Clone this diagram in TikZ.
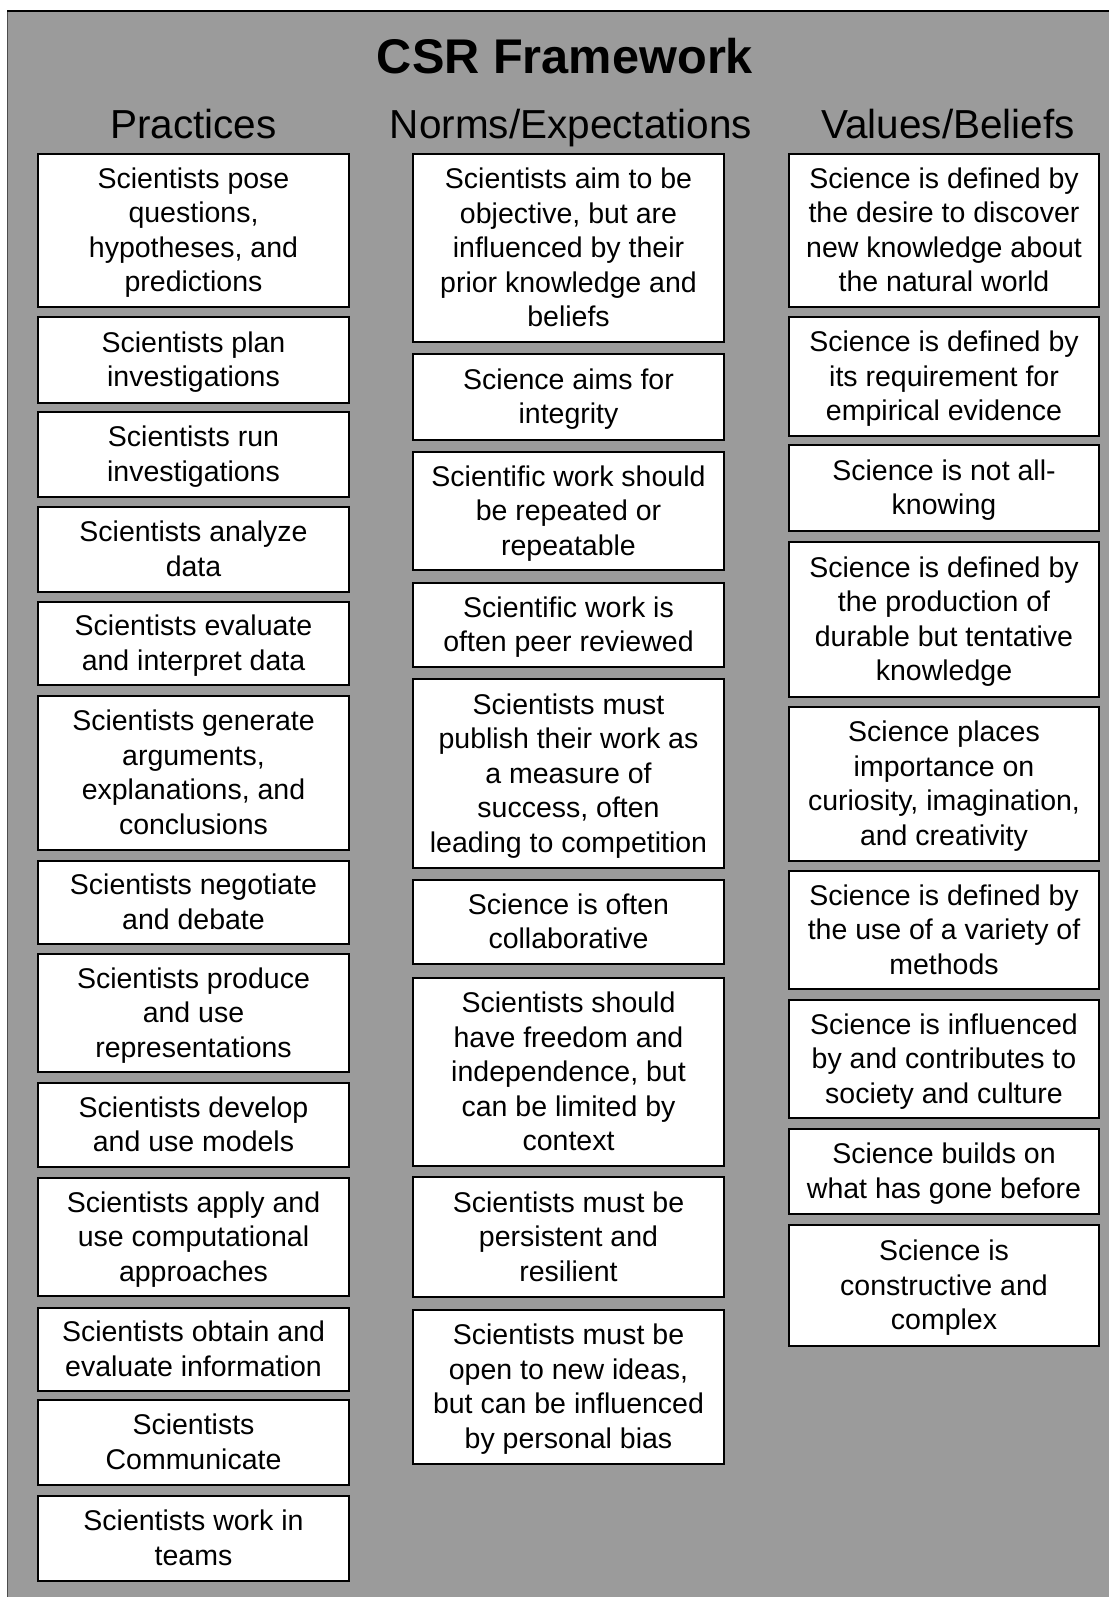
\documentclass[tikz,border=0pt]{standalone}
\usepackage{fontspec}
\setmainfont{Liberation Sans}
\definecolor{bggray}{RGB}{155,155,155}
\newcommand{\cbox}[6]{%
  \node[frame,minimum width=#5,minimum height=#4] (#1) at (#2,#3) {};
  \node[boxtext] (#1t) at (#1.center) {\rule{0pt}{26.5pt}#6\rule[-7.5pt]{0pt}{7.5pt}};}
\begin{document}
\begin{tikzpicture}[x=1pt,y=-1pt,
  frame/.style={draw=black,line width=1.8pt,fill=white,inner sep=0pt},
  boxtext/.style={inner sep=0pt,align=center,
    font=\fontsize{28.5}{34.5}\selectfont},
  header/.style={anchor=base,inner sep=0pt,font=\fontsize{40.5}{48}\selectfont},
  titlestyle/.style={anchor=base,inner sep=0pt,font=\fontsize{48.7}{56}\selectfont\bfseries}]
\useasboundingbox (0,0) rectangle (1109,1597);
\fill[white] (0,0) rectangle (1109,1597);
\fill[bggray] (7,11) rectangle (1109,1597);
\draw[gray!60!black,line width=1.2pt] (7.5,11) -- (7.5,1597);
\draw[black,line width=2.5pt] (7,11) -- (1109,11);
\node[titlestyle] (title) at (565,74) {CSR Framework};
\node[header] (h1) at (193.5,139) {Practices};
\node[header] (h2) at (571,139) {Norms/Expectations};
\node[header] (h3) at (948,139) {Values/Beliefs};
% column 1
\cbox{p1}{193.5}{230.5}{153}{311}{Scientists pose\\questions,\\hypotheses, and\\predictions}
\cbox{p2}{193.5}{360}{86}{311}{Scientists plan\\investigations}
\cbox{p3}{193.5}{454.5}{85}{311}{Scientists run\\investigations}
\cbox{p4}{193.5}{549.5}{85}{311}{Scientists analyze\\data}
\cbox{p5}{193.5}{643.5}{83}{311}{Scientists evaluate\\and interpret data}
\cbox{p6}{193.5}{773}{154}{311}{Scientists generate\\arguments,\\explanations, and\\conclusions}
\cbox{p7}{193.5}{902.5}{83}{311}{Scientists negotiate\\and debate}
\cbox{p8}{193.5}{1013}{118}{311}{Scientists produce\\and use\\representations}
\cbox{p9}{193.5}{1125}{84}{311}{Scientists develop\\and use models}
\cbox{p10}{193.5}{1237}{118}{311}{Scientists apply and\\use computational\\approaches}
\cbox{p11}{193.5}{1349.5}{83}{311}{Scientists obtain and\\evaluate information}
\cbox{p12}{193.5}{1442.5}{85}{311}{Scientists\\Communicate}
\cbox{p13}{193.5}{1538.5}{85}{311}{Scientists work in\\teams}
% column 2
\cbox{n1}{568.5}{248}{188}{311}{Scientists aim to be\\objective, but are\\influenced by their\\prior knowledge and\\beliefs}
\cbox{n2}{568.5}{397}{86}{311}{Science aims for\\integrity}
\cbox{n3}{568.5}{511}{118}{311}{Scientific work should\\be repeated or\\repeatable}
\cbox{n4}{568.5}{625}{84}{311}{Scientific work is\\often peer reviewed}
\cbox{n5}{568.5}{773.5}{189}{311}{Scientists must\\publish their work as\\a measure of\\success, often\\leading to competition}
\cbox{n6}{568.5}{922}{84}{311}{Science is often\\collaborative}
\cbox{n7}{568.5}{1072}{188}{311}{Scientists should\\have freedom and\\independence, but\\can be limited by\\context}
\cbox{n8}{568.5}{1237}{120}{311}{Scientists must be\\persistent and\\resilient}
\cbox{n9}{568.5}{1387}{154}{311}{Scientists must be\\open to new ideas,\\but can be influenced\\by personal bias}
% column 3
\cbox{v1}{944}{230.5}{153}{310}{Science is defined by\\the desire to discover\\new knowledge about\\the natural world}
\cbox{v2}{944}{376.5}{119}{310}{Science is defined by\\its requirement for\\empirical evidence}
\cbox{v3}{944}{488}{86}{310}{Science is not all-\\knowing}
\cbox{v4}{944}{619.5}{155}{310}{Science is defined by\\the production of\\durable but tentative\\knowledge}
\cbox{v5}{944}{784}{154}{310}{Science places\\importance on\\curiosity, imagination,\\and creativity}
\cbox{v6}{944}{930}{118}{310}{Science is defined by\\the use of a variety of\\methods}
\cbox{v7}{944}{1059}{118}{310}{Science is influenced\\by and contributes to\\society and culture}
\cbox{v8}{944}{1171.5}{85}{310}{Science builds on\\what has gone before}
\cbox{v9}{944}{1285.5}{121}{310}{Science is\\constructive and\\complex}
\end{tikzpicture}
\end{document}
